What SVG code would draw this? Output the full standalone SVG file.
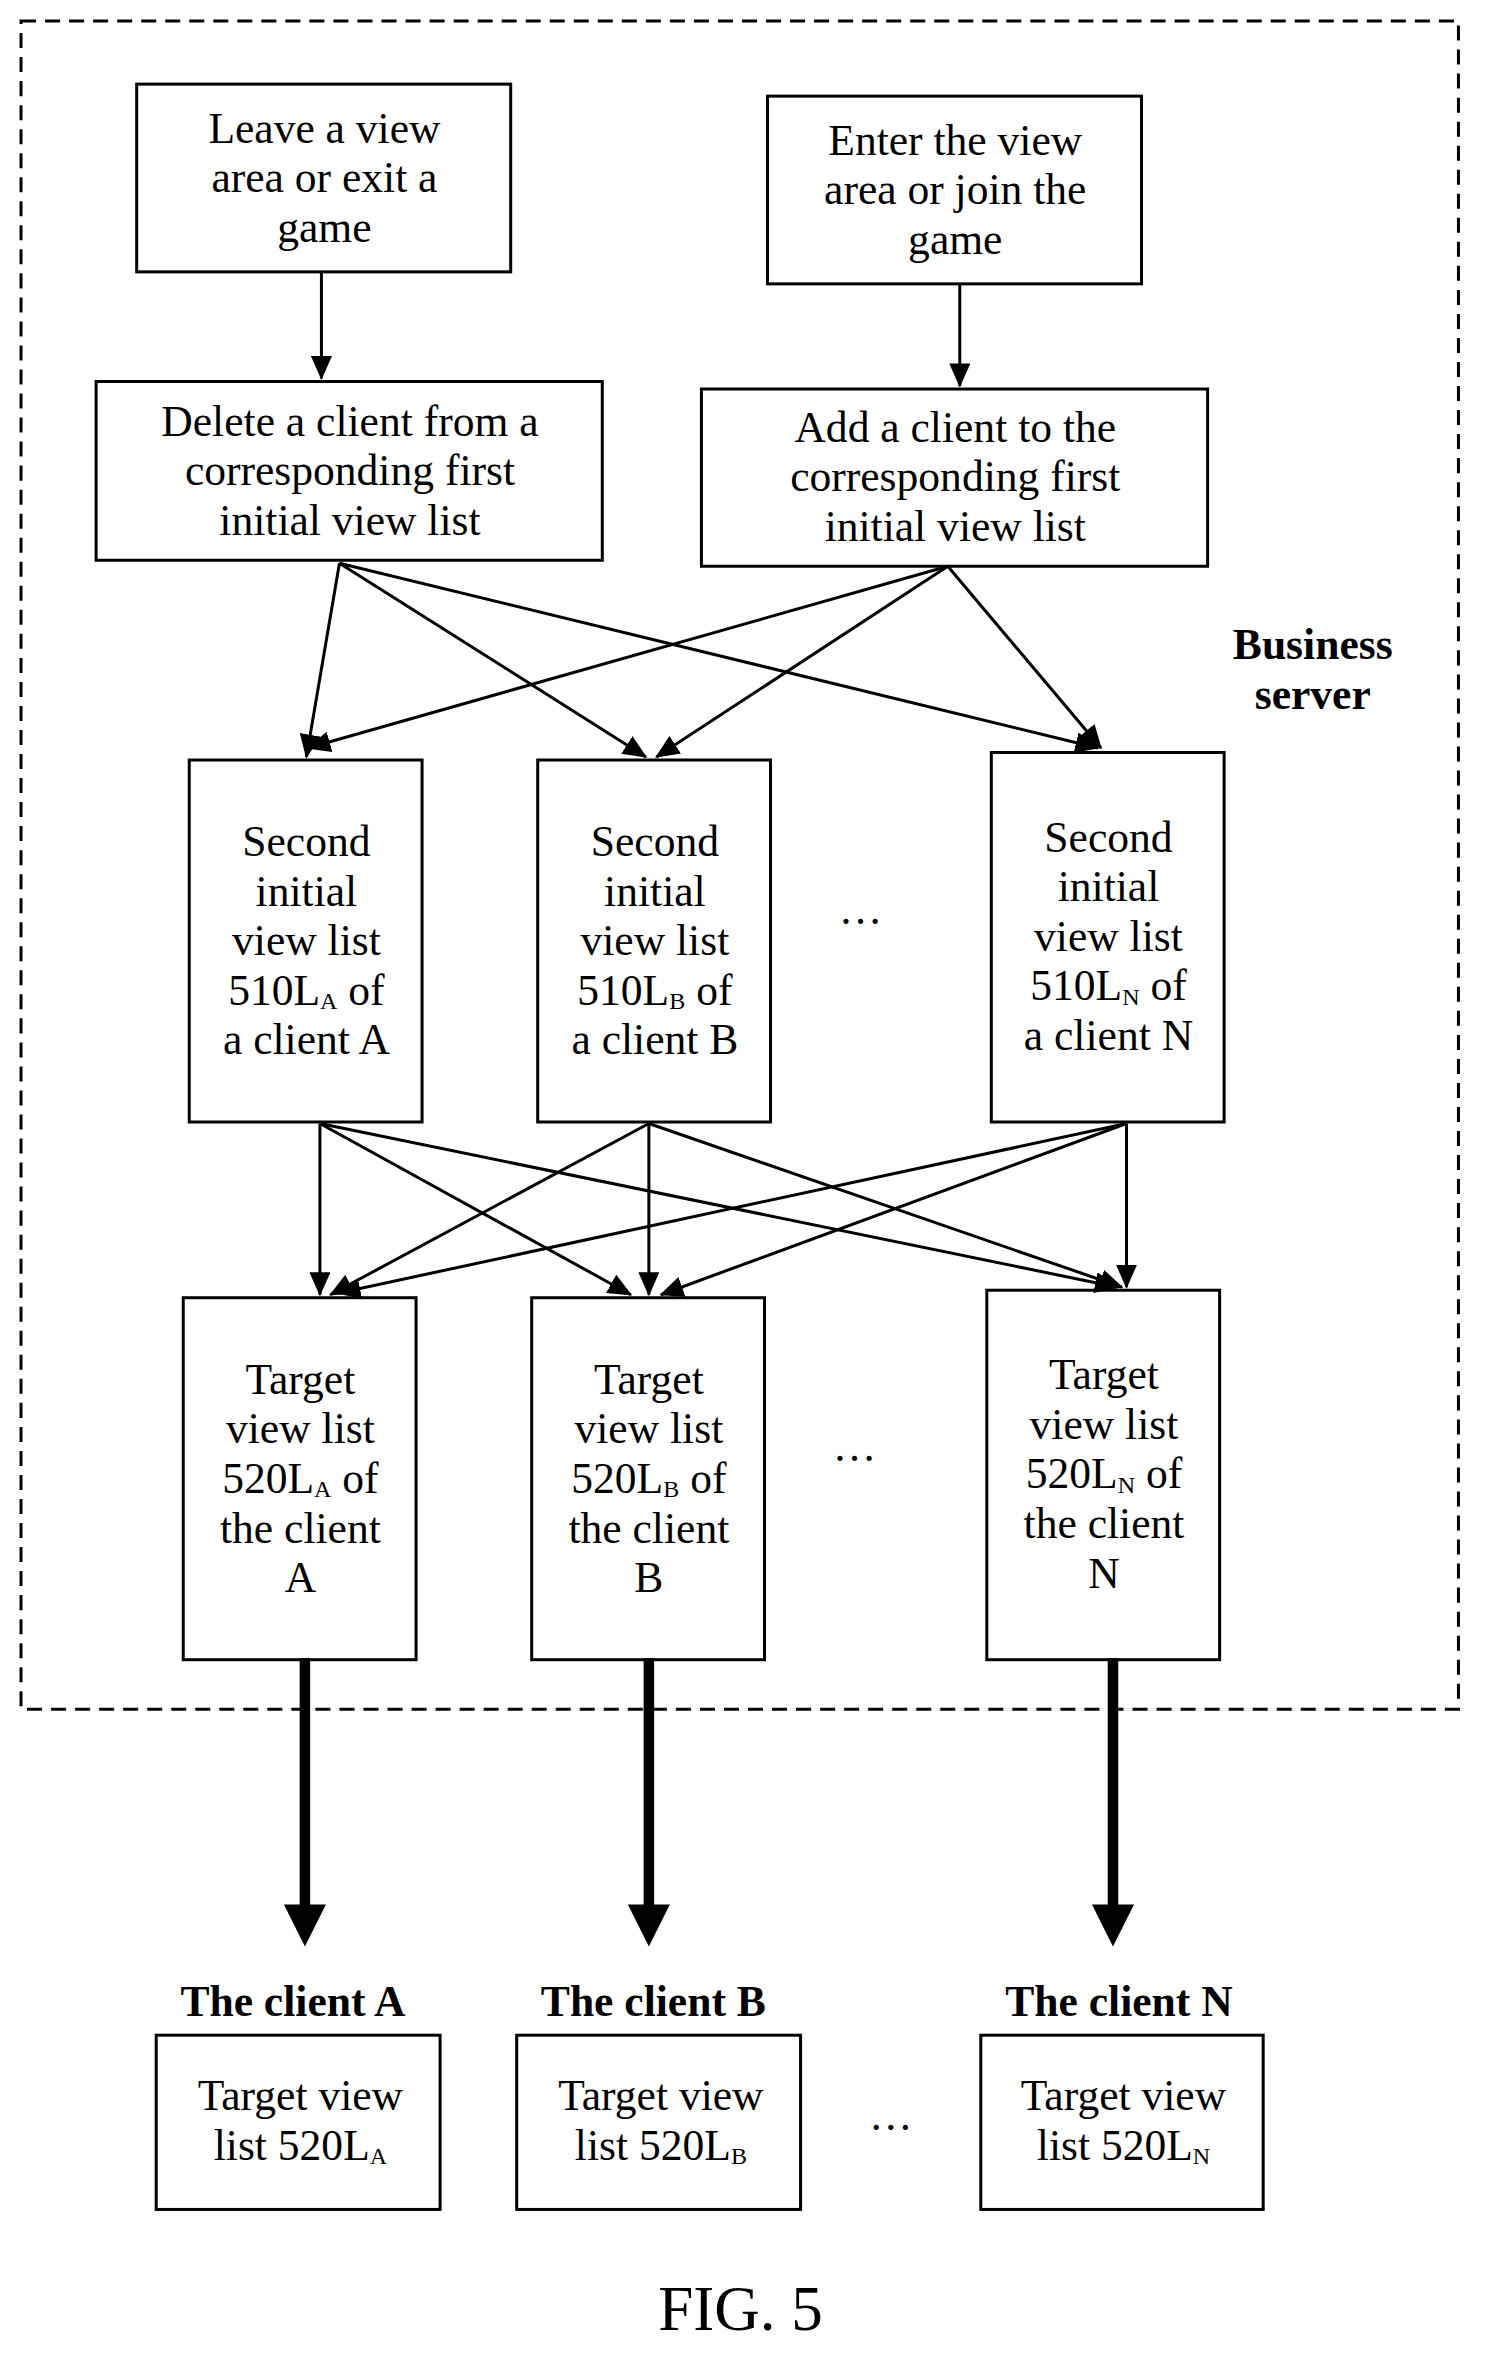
<svg xmlns="http://www.w3.org/2000/svg" width="1487" height="2365" viewBox="0 0 1487 2365">
<style>
text{font-family:"Liberation Serif","Times New Roman",serif;font-size:29px;fill:#000;text-anchor:middle}
.b{font-weight:bold;font-size:29px}
.s{font-size:16px}
rect{fill:#fff;stroke:#000;stroke-width:2}
.c line{stroke:#000;stroke-width:2;marker-end:url(#a)}
.t line{stroke:#000;stroke-width:7}
</style>
<defs>
<marker id="a" markerUnits="userSpaceOnUse" markerWidth="16" markerHeight="14" refX="15" refY="7" orient="auto"><path d="M0,0 L16,7 L0,14 Z" fill="#000"/></marker>
</defs>
<rect width="1487" height="2365" style="stroke:none"/>
<g transform="scale(1.502)">
<rect id="server" x="14" y="14" width="957" height="1124" style="fill:none;stroke-dasharray:10,6"/>
<text class="b" x="874" y="439">Business</text><text class="b" x="874" y="472">server</text>
<g id="n1"><rect x="91" y="56" width="249" height="125"/><text x="216" y="95">Leave a view</text><text x="216" y="128">area or exit a</text><text x="216" y="161">game</text></g>
<g id="n2"><rect x="511" y="64" width="249" height="125"/><text x="636" y="103">Enter the view</text><text x="636" y="136">area or join the</text><text x="636" y="169">game</text></g>
<g id="n3"><rect x="64" y="254" width="337" height="119"/><text x="233" y="290">Delete a client from a</text><text x="233" y="323">corresponding first</text><text x="233" y="356">initial view list</text></g>
<g id="n4"><rect x="467" y="259" width="337" height="118"/><text x="636" y="294">Add a client to the</text><text x="636" y="327">corresponding first</text><text x="636" y="360">initial view list</text></g>
<g id="s1"><rect x="126" y="506" width="155" height="241"/><text x="204" y="570">Second</text><text x="204" y="603">initial</text><text x="204" y="636">view list</text><text x="204" y="669">510L<tspan class="s" dy="3">A</tspan><tspan dy="-3"> of</tspan></text><text x="204" y="702">a client A</text></g>
<g id="s2"><rect x="358" y="506" width="155" height="241"/><text x="436" y="570">Second</text><text x="436" y="603">initial</text><text x="436" y="636">view list</text><text x="436" y="669">510L<tspan class="s" dy="3">B</tspan><tspan dy="-3"> of</tspan></text><text x="436" y="702">a client B</text></g>
<g id="s3"><rect x="660" y="501" width="155" height="246"/><text x="738" y="567">Second</text><text x="738" y="600">initial</text><text x="738" y="633">view list</text><text x="738" y="666">510L<tspan class="s" dy="3">N</tspan><tspan dy="-3"> of</tspan></text><text x="738" y="699">a client N</text></g>
<text x="573" y="615">…</text>
<g id="t1"><rect x="122" y="864" width="155" height="241"/><text x="200" y="928">Target</text><text x="200" y="961">view list</text><text x="200" y="994">520L<tspan class="s" dy="3">A</tspan><tspan dy="-3"> of</tspan></text><text x="200" y="1027">the client</text><text x="200" y="1060">A</text></g>
<g id="t2"><rect x="354" y="864" width="155" height="241"/><text x="432" y="928">Target</text><text x="432" y="961">view list</text><text x="432" y="994">520L<tspan class="s" dy="3">B</tspan><tspan dy="-3"> of</tspan></text><text x="432" y="1027">the client</text><text x="432" y="1060">B</text></g>
<g id="t3"><rect x="657" y="859" width="155" height="246"/><text x="735" y="925">Target</text><text x="735" y="958">view list</text><text x="735" y="991">520L<tspan class="s" dy="3">N</tspan><tspan dy="-3"> of</tspan></text><text x="735" y="1024">the client</text><text x="735" y="1057">N</text></g>
<text x="569" y="973">…</text>
<g id="c1"><text class="b" x="195" y="1342">The client A</text><rect x="104" y="1355" width="189" height="116"/><text x="200" y="1405">Target view</text><text x="200" y="1438">list 520L<tspan class="s" dy="3">A</tspan></text></g>
<g id="c2"><text class="b" x="435" y="1342">The client B</text><rect x="344" y="1355" width="189" height="116"/><text x="440" y="1405">Target view</text><text x="440" y="1438">list 520L<tspan class="s" dy="3">B</tspan></text></g>
<g id="c3"><text class="b" x="745" y="1342">The client N</text><rect x="653" y="1355" width="188" height="116"/><text x="748" y="1405">Target view</text><text x="748" y="1438">list 520L<tspan class="s" dy="3">N</tspan></text></g>
<text x="593" y="1418">…</text>
<text x="493" y="1551" style="font-size:42px">FIG. 5</text>
<g id="connectors">
<g class="c">
<line x1="214" y1="181" x2="214" y2="252"/>
<line x1="639" y1="189" x2="639" y2="257"/>
<line x1="226" y1="375" x2="204" y2="504"/>
<line x1="226" y1="375" x2="430" y2="504"/>
<line x1="226" y1="375" x2="731" y2="498"/>
<line x1="631" y1="377" x2="205" y2="498"/>
<line x1="631" y1="377" x2="437" y2="504"/>
<line x1="631" y1="377" x2="733" y2="498"/>
<line x1="213" y1="748" x2="213" y2="862"/>
<line x1="213" y1="748" x2="420" y2="862"/>
<line x1="213" y1="748" x2="744" y2="857"/>
<line x1="432" y1="748" x2="220" y2="862"/>
<line x1="432" y1="748" x2="432" y2="862"/>
<line x1="432" y1="748" x2="747" y2="857"/>
<line x1="750" y1="748" x2="225" y2="861"/>
<line x1="750" y1="748" x2="440" y2="862"/>
<line x1="750" y1="748" x2="750" y2="857"/>
</g>
<g class="t">
<line x1="203" y1="1104" x2="203" y2="1270"/>
<line x1="432" y1="1104" x2="432" y2="1270"/>
<line x1="741" y1="1104" x2="741" y2="1270"/>
</g>
<path d="M189,1268 L217,1268 L203,1296 Z M418,1268 L446,1268 L432,1296 Z M727,1268 L755,1268 L741,1296 Z" fill="#000"/>
</g>
</g>
</svg>
